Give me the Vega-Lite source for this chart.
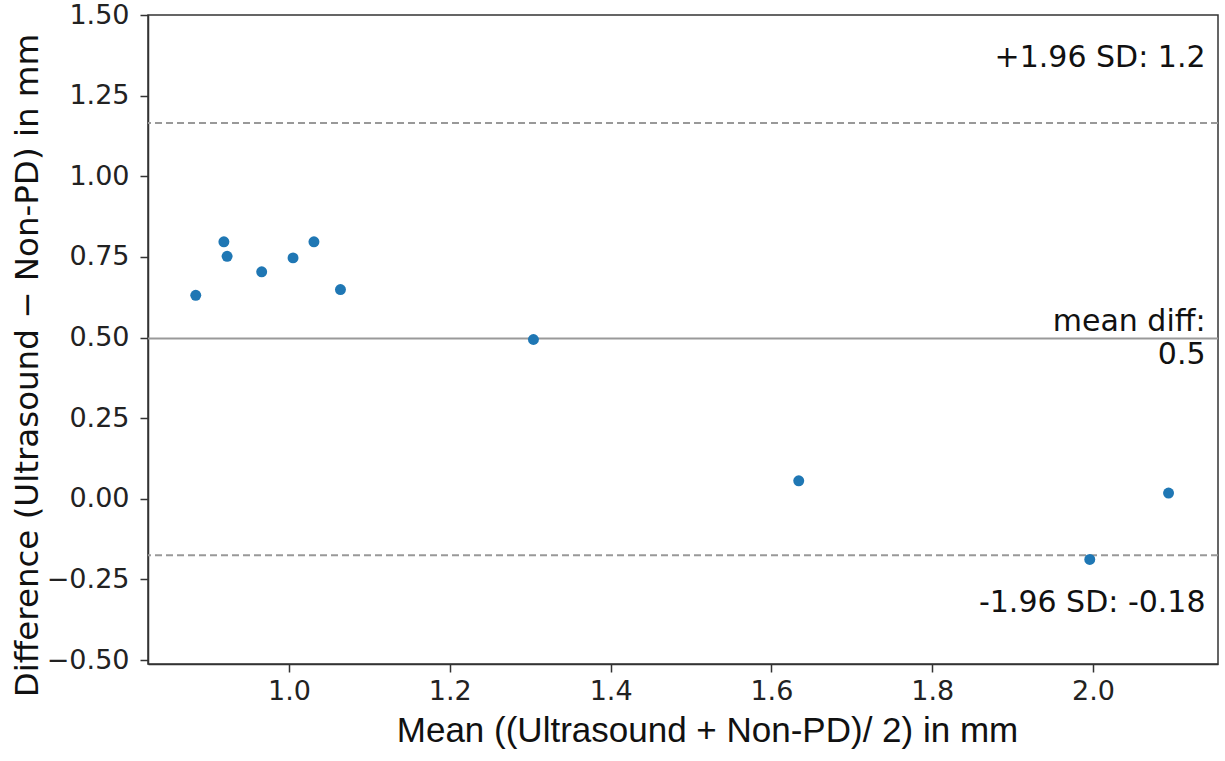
{
  "$schema": "https://vega.github.io/schema/vega-lite/v6.json",
  "autosize": {"type": "none"},
  "width": 1070,
  "height": 649,
  "padding": {"left": 148, "top": 15, "right": 7, "bottom": 97},
  "background": "white",
  "config": {
    "view": {"stroke": "#333333", "strokeWidth": 1.5},
    "axis": {
      "grid": false,
      "domainColor": "#333333",
      "domainWidth": 1.5,
      "tickColor": "#333333",
      "tickWidth": 1.5,
      "tickSize": 8,
      "labelFont": "DejaVu Sans",
      "labelFontSize": 27,
      "labelColor": "#222222",
      "titleColor": "#111111",
      "titleFontWeight": "normal"
    }
  },
  "datasets": {
    "points": [
      {"mean": 0.884, "diff": 0.631},
      {"mean": 0.919, "diff": 0.797},
      {"mean": 0.923, "diff": 0.752},
      {"mean": 0.966, "diff": 0.704},
      {"mean": 1.005, "diff": 0.747},
      {"mean": 1.031, "diff": 0.797},
      {"mean": 1.064, "diff": 0.649},
      {"mean": 1.304, "diff": 0.494},
      {"mean": 1.634, "diff": 0.056},
      {"mean": 1.996, "diff": -0.188},
      {"mean": 2.094, "diff": 0.018}
    ],
    "limits": [
      {"value": 1.165, "kind": "upper"},
      {"value": -0.175, "kind": "lower"}
    ],
    "meanline": [
      {"value": 0.497}
    ],
    "labels": [
      {"x": 2.14, "y": 1.34, "text": "+1.96 SD: 1.2"},
      {"x": 2.14, "y": 0.52, "text": "mean diff:"},
      {"x": 2.14, "y": 0.417, "text": "0.5"},
      {"x": 2.14, "y": -0.35, "text": "-1.96 SD: -0.18"}
    ]
  },
  "layer": [
    {
      "data": {"name": "meanline"},
      "mark": {"type": "rule", "color": "#999999", "strokeWidth": 2},
      "encoding": {
        "y": {"field": "value", "type": "quantitative", "scale": {"domain": [-0.512, 1.5], "nice": false, "zero": false}}
      }
    },
    {
      "data": {"name": "limits"},
      "mark": {"type": "rule", "color": "#999999", "strokeWidth": 2, "strokeDash": [7, 4]},
      "encoding": {
        "y": {"field": "value", "type": "quantitative"}
      }
    },
    {
      "data": {"name": "points"},
      "mark": {"type": "point", "filled": true, "shape": "circle", "size": 120, "color": "#1f77b4", "opacity": 1},
      "encoding": {
        "x": {
          "field": "mean", "type": "quantitative",
          "scale": {"domain": [0.8246, 2.1555], "nice": false, "zero": false},
          "axis": {
            "values": [1.0, 1.2, 1.4, 1.6, 1.8, 2.0],
            "format": ".1f",
            "labelPadding": 6,
            "title": "Mean ((Ultrasound + Non-PD)/ 2) in mm",
            "titleFont": "Liberation Sans",
            "titleFontSize": 35,
            "titlePadding": 9,
            "titleX": 559
          }
        },
        "y": {
          "field": "diff", "type": "quantitative",
          "scale": {"domain": [-0.512, 1.5], "nice": false, "zero": false},
          "axis": {
            "values": [-0.5, -0.25, 0, 0.25, 0.5, 0.75, 1.0, 1.25, 1.5],
            "format": ".2f",
            "labelPadding": 11,
            "title": "Difference (Ultrasound \u2212 Non-PD) in mm",
            "titleFont": "DejaVu Sans",
            "titleFontSize": 32.5,
            "titlePadding": 2,
            "titleY": 350
          }
        }
      }
    },
    {
      "data": {"name": "labels"},
      "mark": {"type": "text", "align": "right", "baseline": "alphabetic", "font": "DejaVu Sans", "fontSize": 30, "color": "#111111"},
      "encoding": {
        "x": {"field": "x", "type": "quantitative"},
        "y": {"field": "y", "type": "quantitative"},
        "text": {"field": "text"}
      }
    }
  ]
}
